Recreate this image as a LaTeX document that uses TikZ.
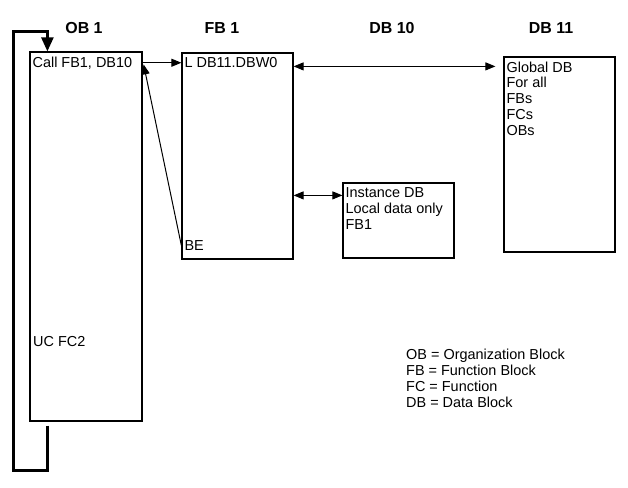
\documentclass[tikz,border=0pt]{standalone}
\usepackage{fontspec}
\setmainfont{Liberation Sans}
\usetikzlibrary{arrows.meta}
\begin{document}
\begin{tikzpicture}[x=1bp,y=1bp,
  block/.style={draw,line width=1.2bp,inner sep=0pt},
  head/.style={font=\fontsize{16}{18}\selectfont\bfseries},
  blocktext/.style={font=\fontsize{14.5}{16}\selectfont,align=left,inner sep=0pt,anchor=north west},
  link/.style={line width=1bp,-{Triangle[length=10bp,width=8bp]}},
  dlink/.style={line width=1bp,{Triangle[length=10bp,width=8bp]}-{Triangle[length=10bp,width=8bp]}},
  cyclelink/.style={line width=2.5bp,-{Triangle[length=14bp,width=12bp]}}]
        \useasboundingbox (0,0) rectangle (628,488);
        % blocks
        \node[block,minimum width=112bp,minimum height=369bp] (ob1) at (86,251.5) {};
        \node[block,minimum width=111bp,minimum height=206bp] (fb1) at (237.5,332) {};
        \node[block,minimum width=111bp,minimum height=75bp] (db10) at (398.5,267.5) {};
        \node[block,minimum width=111bp,minimum height=195bp] (db11) at (559.5,333.5) {};
        % titles
        \node[head] (tob) at (84,460) {OB 1};
        \node[head] (tfb) at (222,460) {FB 1};
        \node[head] (tdbi) at (392,460) {DB 10};
        \node[head] (tdbg) at (551,460) {DB 11};
        % texts
        \node[blocktext] (call) at ([shift={(3,-5)}]ob1.north west) {Call FB1, DB10};
        \node[blocktext,anchor=base west] (uc) at (33,141) {UC FC2};
        \node[blocktext] (ldb) at ([shift={(3,-5)}]fb1.north west) {L DB11.DBW0};
        \node[blocktext,anchor=base west] (be) at ([shift={(3,9)}]fb1.south west) {BE};
        \node[blocktext] (inst) at ([shift={(3,-5)}]db10.north west) {Instance DB\\Local data only\\FB1};
        \node[blocktext] (glob) at ([shift={(3,-5)}]db11.north west) {Global DB\\For all\\FBs\\FCs\\OBs};
        \node[blocktext] (legend) at (406,139) {OB = Organization Block\\FB = Function Block\\FC = Function\\DB = Data Block};
        % connectors
        \coordinate (gtap) at ([yshift=-14bp]fb1.north east);
        \coordinate (itap) at ([yshift=-13bp]db10.north west);
        \coordinate (loopout) at ([shift={(18,-4)}]ob1.south west);
        \coordinate (loopin) at ([xshift=18bp]ob1.north west);
        \draw[link] (call.east -| ob1.east) -- (call.east -| fb1.west);
        \draw[link] (be.west -| fb1.west) -- ([shift={(1,-13)}]ob1.north east);
        \draw[dlink,shorten >=8bp] (gtap) -- (gtap -| db11.west);
        \draw[dlink] (itap -| fb1.east) -- (itap);
        \draw[cyclelink] (loopout) -- ++(0,-45) -- ++(-34,0) |- ([yshift=20bp]loopin) -- (loopin);
      \end{tikzpicture}
\end{document}
